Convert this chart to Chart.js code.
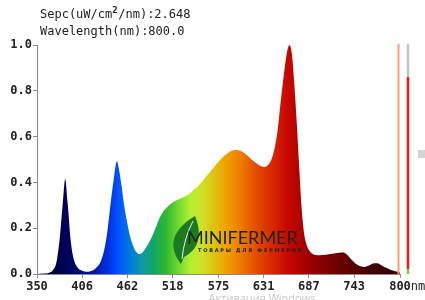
<!DOCTYPE html>
<html lang="en">
  <head>
    <meta charset="UTF-8" />
    <title>Spectrum</title>
    <script src="https://cdn.jsdelivr.net/npm/chart.js@4"></script>
    <style>
      body { margin: 0; background: #fff; }
    </style>
  </head>
  <body>
    <canvas id="spectrum" width="425" height="300"></canvas>
    <script>
      // wavelength (nm) and relative intensity
      const wavelengths = [350, 358, 365, 370, 374, 378, 382, 385, 388, 392, 396, 400, 406, 412, 418, 424, 429, 433, 437, 441, 445, 449, 452, 455, 458, 461, 465, 469, 473, 477, 481, 486, 490, 494, 498, 502, 506, 511, 517, 523, 530, 538, 545, 551, 557, 563, 569, 575, 581, 587, 593, 598, 604, 610, 616, 622, 628, 632, 636, 640, 644, 648, 652, 656, 660, 663, 666, 669, 672, 675, 678, 681, 684, 688, 693, 700, 708, 716, 724, 730, 735, 740, 745, 750, 756, 762, 768, 772, 777, 782, 788, 794, 800];
      const intensity = [0, 0.002, 0.006, 0.018, 0.05, 0.15, 0.31, 0.415, 0.31, 0.14, 0.06, 0.03, 0.014, 0.01, 0.014, 0.03, 0.055, 0.10, 0.18, 0.30, 0.41, 0.492, 0.45, 0.38, 0.30, 0.24, 0.17, 0.125, 0.097, 0.087, 0.095, 0.12, 0.145, 0.175, 0.21, 0.245, 0.27, 0.29, 0.31, 0.322, 0.333, 0.348, 0.37, 0.39, 0.415, 0.44, 0.465, 0.49, 0.513, 0.53, 0.54, 0.542, 0.535, 0.52, 0.50, 0.484, 0.47, 0.467, 0.475, 0.495, 0.54, 0.62, 0.75, 0.87, 0.97, 1.0, 0.96, 0.83, 0.66, 0.47, 0.29, 0.18, 0.13, 0.10, 0.085, 0.082, 0.084, 0.088, 0.093, 0.094, 0.082, 0.062, 0.045, 0.035, 0.031, 0.038, 0.047, 0.047, 0.038, 0.028, 0.019, 0.012, 0.007];

      const xTickLabels = [350, 406, 462, 518, 575, 631, 687, 743, 800];
      const yTickLabels = [0, 0.2, 0.4, 0.6, 0.8, 1.0];

      const specValue = 2.648;
      const cursorNm = 800.0;
      const meterLevel = 0.86;

      // spectrum colour stops (nm, colour)
      const stopNm = [350, 380, 400, 420, 440, 450, 465, 480, 495, 510, 525, 540, 555, 570, 585, 600, 620, 640, 660, 690, 720, 750, 800];
      const stopColor = ['#000030', '#000050', '#000a70', '#0018a0', '#0034e8', '#0050ff', '#0078e0', '#1098a8', '#10a860', '#30b830', '#70d830', '#b0f030', '#d0e028', '#e0c010', '#f0a000', '#f08000', '#e45000', '#d82a00', '#c80800', '#980000', '#700000', '#500000', '#300000'];

      const monoFont = "'DejaVu Sans Mono', 'Liberation Mono', monospace";

      function spectrumFill(context) {
        const chart = context.chart;
        const area = chart.chartArea;
        if (!area) return null;
        const xs = chart.scales.x;
        const g = chart.ctx.createLinearGradient(area.left, 0, area.right, 0);
        stopNm.forEach((nm, i) => {
          const p = (xs.getPixelForValue(nm) - area.left) / (area.right - area.left);
          g.addColorStop(Math.min(1, Math.max(0, p)), stopColor[i]);
        });
        return g;
      }

      // header text, cursor line, level meter, logo
      const decorations = {
        id: 'decorations',
        afterDraw(chart) {
          const { ctx, chartArea: { top, bottom, right } } = chart;
          const xs = chart.scales.x;
          const ys = chart.scales.y;
          ctx.save();

          //header
          ctx.fillStyle = '#222';
          ctx.font = '12px ' + monoFont;
          ctx.textBaseline = 'middle';
          ctx.textAlign = 'left';
          let t1 = 'Sepc(uW/cm';
          ctx.fillText(t1, 40, 15);
          let w = ctx.measureText(t1).width;
          ctx.font = 'bold 9px ' + monoFont;
          ctx.fillText('2', 40 + w, 11);
          ctx.font = '12px ' + monoFont;
          ctx.fillText('/nm):' + specValue.toFixed(3), 40 + w + 6, 15);
          ctx.fillText('Wavelength(nm):' + cursorNm.toFixed(1), 40, 32);

          //"nm" after last x label
          ctx.font = 'bold 12px ' + monoFont;
          const lw = ctx.measureText('800').width;
          ctx.font = '12px ' + monoFont;
          ctx.fillStyle = '#222';
          ctx.fillText('nm', xs.getPixelForValue(800) + lw / 2, 287);

          //cursor line
          const cx = xs.getPixelForValue(cursorNm) - 1.5;
          ctx.strokeStyle = '#ff9a70';
          ctx.lineWidth = 2;
          ctx.beginPath();
          ctx.moveTo(cx, top - 1);
          ctx.lineTo(cx, bottom);
          ctx.stroke();

          //level meter
          const mx = right + 8;
          const yl = ys.getPixelForValue(meterLevel);
          ctx.lineWidth = 2.5;
          ctx.strokeStyle = '#c4c4c4';
          ctx.beginPath(); ctx.moveTo(mx, top - 1); ctx.lineTo(mx, yl); ctx.stroke();
          ctx.strokeStyle = '#ff1010';
          ctx.beginPath(); ctx.moveTo(mx, yl); ctx.lineTo(mx, bottom - 5); ctx.stroke();
          ctx.strokeStyle = '#60e040';
          ctx.beginPath(); ctx.moveTo(mx, bottom - 5); ctx.lineTo(mx, bottom); ctx.stroke();

          //scroll marker
          ctx.fillStyle = '#d4d4d4';
          ctx.fillRect(418, 150, 7, 8);

          //logo leaf
          ctx.fillStyle = '#1c7a22';
          ctx.beginPath();
          ctx.moveTo(181, 264);
          ctx.bezierCurveTo(170, 250, 168, 232, 195, 216);
          ctx.bezierCurveTo(203, 236, 198, 250, 184, 257);
          ctx.closePath();
          ctx.fill();
          ctx.strokeStyle = '#e8f0e0';
          ctx.lineWidth = 1;
          ctx.beginPath();
          ctx.moveTo(182, 259);
          ctx.quadraticCurveTo(184, 238, 193, 221);
          ctx.stroke();

          //logo text
          ctx.fillStyle = '#1a261a';
          ctx.font = '18px Lato, "Open Sans", sans-serif';
          ctx.textAlign = 'left';
          ctx.fillText('MINIFERMER', 187, 238);
          ctx.font = 'bold 5px "DejaVu Sans", sans-serif';
          const sub = 'Т О В А Р Ы   Д Л Я   Ф Е Р М Е Р О В';
          ctx.fillText(sub, 198, 251);

          //watermark
          ctx.fillStyle = '#c8c8c8';
          ctx.font = '11px "Open Sans", sans-serif';
          ctx.textAlign = 'center';
          ctx.fillText('Активация Windows', 262, 299);

          ctx.restore();
        }
      };

      const data = {
        datasets: [{
          data: wavelengths.map((nm, i) => ({ x: nm, y: intensity[i] })),
          backgroundColor: spectrumFill,
          borderWidth: 0,
          pointRadius: 0,
          fill: 'origin',
          cubicInterpolationMode: 'monotone'
        }]
      };

      const axisColor = '#8a8a8a';

      const config = {
        type: 'line',
        data: data,
        options: {
          responsive: false,
          animation: false,
          layout: { padding: { top: 45, right: 25, left: 0, bottom: 0 } },
          plugins: { legend: { display: false }, tooltip: { enabled: false } },
          scales: {
            x: {
              type: 'linear',
              min: 350,
              max: 800,
              afterBuildTicks: (scale) => { scale.ticks = xTickLabels.map(v => ({ value: v })); },
              afterFit: (scale) => { scale.height = 26; },
              grid: { drawOnChartArea: false, drawTicks: true, tickLength: 4, color: axisColor },
              border: { display: true, color: axisColor },
              ticks: {
                autoSkip: false,
                maxRotation: 0,
                padding: 2,
                color: '#222',
                font: { family: monoFont, size: 12, weight: 'bold' },
                callback: (v) => String(v)
              }
            },
            y: {
              min: 0,
              max: 1,
              afterBuildTicks: (scale) => { scale.ticks = yTickLabels.map(v => ({ value: v })); },
              afterFit: (scale) => { scale.width = 37; },
              grid: { drawOnChartArea: false, drawTicks: true, tickLength: 4, color: axisColor },
              border: { display: true, color: axisColor },
              ticks: {
                padding: 1,
                color: '#222',
                font: { family: monoFont, size: 12, weight: 'bold' },
                callback: (v) => v.toFixed(1)
              }
            }
          }
        },
        plugins: [decorations]
      };

      new Chart(document.getElementById('spectrum'), config);
    </script>
  </body>
</html>
